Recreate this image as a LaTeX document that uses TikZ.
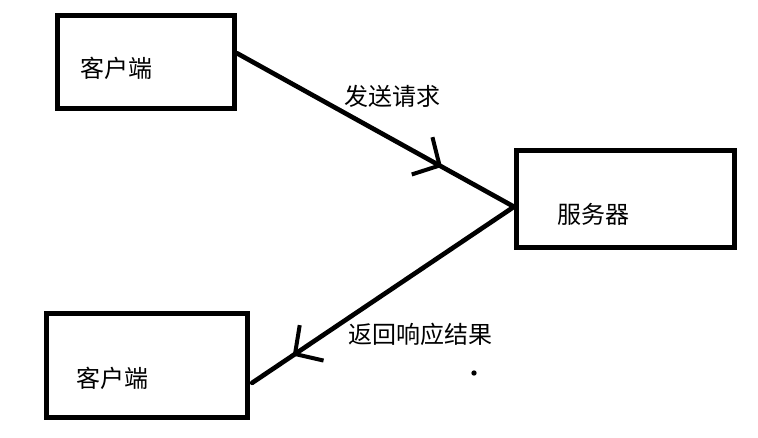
\documentclass[tikz,border=0pt]{standalone}
\usepackage{fontspec}
\setmainfont{Noto Sans CJK SC}
\usetikzlibrary{arrows.meta,decorations.markings}

\begin{document}
\begin{tikzpicture}[x=0.75pt,y=0.75pt,line width=3.5pt,
        box/.style={rectangle, draw, line width=3.75pt,
                        inner sep=0pt},
        txt/.style={font=\fontsize{18pt}{20pt}\selectfont, inner sep=0pt},
        midarrow/.style={postaction={decorate,
                        decoration={markings, mark=at position #1 with
                        {\arrow{Straight Barb[length=15pt,width=32pt,line width=3pt]}}}}}]
    \useasboundingbox (0,0) rectangle (758,437);
    % boxes
    \node[box, minimum width=132.75pt, minimum height=70pt] (c1) at (146,374.75) {};
    \node[box, minimum width=163.5pt, minimum height=73pt] (srv) at (625.5,238.25) {};
    \node[box, minimum width=150.75pt, minimum height=78pt] (c2) at (146.5,71.5) {};
    \node[txt] (t1) at (116,369) {客户端};
    \node[txt] (t2) at (593,223) {服务器};
    \node[txt] (t3) at (112,59) {客户端};
    % connectors
    \coordinate (hub) at ([yshift=-6pt]srv.west);
    \draw[line cap=round, midarrow=0.74] ([yshift=6.75pt]c1.east) -- (hub);
    \draw[line cap=round, midarrow=0.845] (hub) -- ([xshift=2pt,yshift=-13pt]c2.east);
    \node[txt] (req) at (392,341) {发送请求};
    \node[txt] (resp) at (420,103) {返回响应结果};
    \node[circle, fill, inner sep=0pt, minimum size=4pt] (dot) at (474,64) {};
\end{tikzpicture}
\end{document}
